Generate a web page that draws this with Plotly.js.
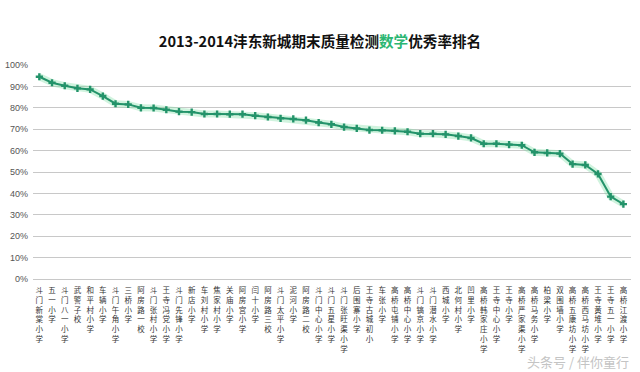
<!DOCTYPE html>
<html><head><meta charset="utf-8">
<script src="https://cdn.plot.ly/plotly-3.0.1.min.js"></script>
<style>html,body{margin:0;padding:0;background:#fff}#c{width:640px;height:372px}</style>
</head><body><div id="c"></div>
<script>
const schools = ["斗门新棠小学","五一小学","斗门八一小学","武警子校","和平村小学","车辆小学","斗门午角小学","三桥小学","阿房路一校","斗门张村小学","王寺冯党小学","斗门先锋小学","新店小学","车刘村小学","焦家村小学","关庙小学","阿房宫小学","闫十小学","阿房路三校","斗门太平小学","泥河小学","阿房路二校","斗门中心小学","斗门五星小学","斗门张旺渠小学","后围寨小学","王寺古城初小","车张小学","高桥屯铺小学","高桥中心小学","斗门镐京小学","斗门潜水小学","西城小学","北何村小学","凹里小学","高桥韩家庄小学","王寺中心小学","王寺小学","高桥严家渠小学","高桥马务小学","柏梁小学","双围墙小学","高桥五康坊小学","高桥西马坊小学","王寺黄堆小学","王寺五一小学","高桥江渡小学"];
const rates = [0.945,0.917,0.903,0.891,0.886,0.855,0.819,0.816,0.800,0.799,0.791,0.782,0.780,0.771,0.771,0.770,0.770,0.763,0.757,0.751,0.748,0.742,0.731,0.723,0.710,0.704,0.696,0.695,0.692,0.688,0.679,0.679,0.676,0.668,0.659,0.632,0.632,0.628,0.625,0.592,0.589,0.586,0.537,0.533,0.491,0.385,0.350];
const yTicks = [0,0.1,0.2,0.3,0.4,0.5,0.6,0.7,0.8,0.9,1.0];
const yTickText = ["0%","10%","20%","30%","40%","50%","60%","70%","80%","90%","100%"];

const idx = schools.map((_, i) => i);
const vertical = schools.map(s => Array.from(s).join("<br>"));

const traces = [
  {x: idx, y: rates, type: "scatter", mode: "lines", hoverinfo: "skip",
   line: {color: "rgba(120,220,160,0.35)", width: 7}, showlegend: false},
  {x: idx, y: rates, type: "scatter", mode: "lines+markers",
   line: {color: "#23936a", width: 2},
   marker: {symbol: "cross", size: 6, color: "#23936a"}, showlegend: false}
];

const layout = {
  width: 640, height: 372,
  margin: {l: 33, r: 9, t: 65, b: 93},
  paper_bgcolor: "#fff", plot_bgcolor: "#fff",
  title: {text: "<b>2013-2014沣东新城期末质量检测<span style='color:#2bb673'>数学</span>优秀率排名</b>",
          font: {family: "Noto Sans CJK SC, sans-serif", size: 14.6, color: "#111"},
          x: 0.5, xanchor: "center", y: 1 - 42/372, yanchor: "middle", yref: "container"},
  xaxis: {range: [-0.5, 46.6], tickmode: "array", tickvals: idx, ticktext: vertical,
          tickangle: 0, showgrid: false, zeroline: false, showline: true, linecolor: "#c8c8c8",
          ticks: "", ticklabelstandoff: 4,
          tickfont: {family: "Noto Sans CJK SC, sans-serif", size: 7.5, color: "#333"}},
  yaxis: {range: [0, 1.0], tickmode: "array", tickvals: yTicks, ticktext: yTickText,
          showgrid: true, gridcolor: "#c8c8c8", gridwidth: 1, zeroline: false, showline: false,
          ticks: "", ticklabelstandoff: 4,
          tickfont: {family: "Liberation Sans, sans-serif", size: 9, color: "#555"}},
  annotations: [{text: "头条号 / 伴你童行", xref: "paper", yref: "paper",
                 x: 1, y: -0.385, xanchor: "right", yanchor: "middle", showarrow: false,
                 font: {family: "Noto Sans CJK SC, sans-serif", size: 13, color: "#c4c4c4"}}]
};

Plotly.newPlot("c", traces, layout, {displayModeBar: false, staticPlot: true});
</script>
</body></html>
